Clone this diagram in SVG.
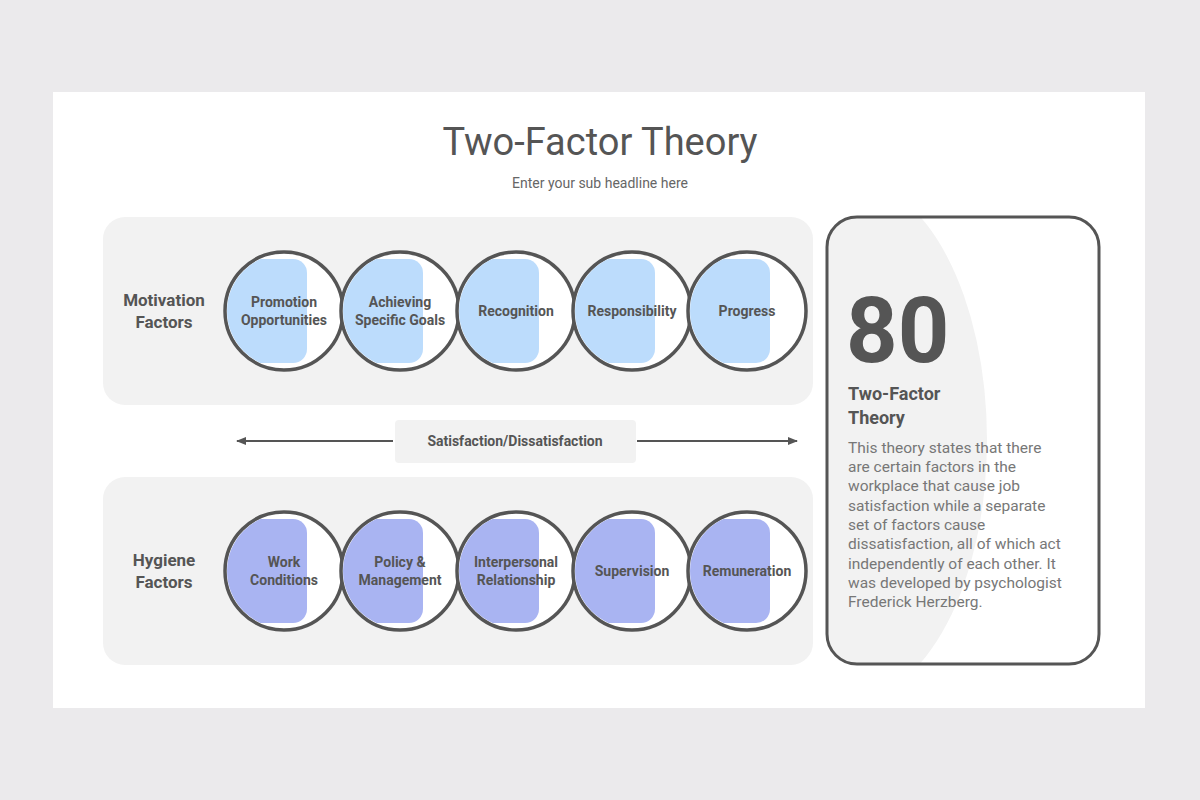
<svg xmlns="http://www.w3.org/2000/svg" width="1200" height="800" viewBox="0 0 1200 800">
<style>
text{font-family:Roboto,"Liberation Sans",sans-serif}
.c{fill:#fff;stroke:#555;stroke-width:3.5}
.lbl{font-size:14px;font-weight:bold;fill:#555;text-anchor:middle}
.side{font-size:17px;font-weight:bold;fill:#555;text-anchor:middle}
.t1{fill:#bcdcfc}.t2{fill:#a9b4f2}
.body{font-size:15.5px;fill:#777}
</style>
<defs>
<marker id="ah" markerWidth="10" markerHeight="10" refX="9" refY="5" orient="auto-start-reverse" markerUnits="userSpaceOnUse"><path d="M0,1 L10,5 L0,9 Z" fill="#555"/></marker>
<clipPath id="card"><rect x="827" y="217" width="272" height="447" rx="30"/></clipPath>
<clipPath id="k1"><circle cx="0" cy="0" r="57"/></clipPath>
</defs>
<rect width="1200" height="800" fill="#ebeaec"/>
<rect x="53" y="92" width="1092" height="616" fill="#fff"/>
<text x="600" y="155" font-size="38" fill="#555" text-anchor="middle">Two-Factor Theory</text>
<text x="600" y="188" font-size="14" fill="#666" text-anchor="middle">Enter your sub headline here</text>
<rect x="103" y="217" width="710" height="188" rx="22" fill="#f2f2f2"/>
<rect x="103" y="477" width="710" height="188" rx="22" fill="#f2f2f2"/>
<text class="side" x="164" y="306">Motivation</text><text class="side" x="164" y="328">Factors</text>
<text class="side" x="164" y="566">Hygiene</text><text class="side" x="164" y="588">Factors</text>
<g id="connectors">
<line x1="237" y1="441" x2="393" y2="441" stroke="#555" stroke-width="2" marker-start="url(#ah)"/>
<line x1="637" y1="441" x2="797" y2="441" stroke="#555" stroke-width="2" marker-end="url(#ah)"/>
</g>
<g id="satisfaction"><rect x="395" y="420" width="241" height="43" rx="4" fill="#f2f2f2"/>
<text x="515" y="446" font-size="14" font-weight="bold" fill="#555" text-anchor="middle">Satisfaction/Dissatisfaction</text></g>
<g id="m1" transform="translate(284,311)"><circle class="c" r="59"/><rect class="t1" clip-path="url(#k1)" x="-60" y="-52" width="83" height="104" rx="14"/><text class="lbl" y="-4">Promotion</text><text class="lbl" y="14">Opportunities</text></g>
<g id="m2" transform="translate(400,311)"><circle class="c" r="59"/><rect class="t1" clip-path="url(#k1)" x="-60" y="-52" width="83" height="104" rx="14"/><text class="lbl" y="-4">Achieving</text><text class="lbl" y="14">Specific Goals</text></g>
<g id="m3" transform="translate(516,311)"><circle class="c" r="59"/><rect class="t1" clip-path="url(#k1)" x="-60" y="-52" width="83" height="104" rx="14"/><text class="lbl" y="5">Recognition</text></g>
<g id="m4" transform="translate(632,311)"><circle class="c" r="59"/><rect class="t1" clip-path="url(#k1)" x="-60" y="-52" width="83" height="104" rx="14"/><text class="lbl" y="5">Responsibility</text></g>
<g id="m5" transform="translate(747,311)"><circle class="c" r="59"/><rect class="t1" clip-path="url(#k1)" x="-60" y="-52" width="83" height="104" rx="14"/><text class="lbl" y="5">Progress</text></g>
<g id="h1" transform="translate(284,571)"><circle class="c" r="59"/><rect class="t2" clip-path="url(#k1)" x="-60" y="-52" width="83" height="104" rx="14"/><text class="lbl" y="-4">Work</text><text class="lbl" y="14">Conditions</text></g>
<g id="h2" transform="translate(400,571)"><circle class="c" r="59"/><rect class="t2" clip-path="url(#k1)" x="-60" y="-52" width="83" height="104" rx="14"/><text class="lbl" y="-4">Policy &amp;</text><text class="lbl" y="14">Management</text></g>
<g id="h3" transform="translate(516,571)"><circle class="c" r="59"/><rect class="t2" clip-path="url(#k1)" x="-60" y="-52" width="83" height="104" rx="14"/><text class="lbl" y="-4">Interpersonal</text><text class="lbl" y="14">Relationship</text></g>
<g id="h4" transform="translate(632,571)"><circle class="c" r="59"/><rect class="t2" clip-path="url(#k1)" x="-60" y="-52" width="83" height="104" rx="14"/><text class="lbl" y="5">Supervision</text></g>
<g id="h5" transform="translate(747,571)"><circle class="c" r="59"/><rect class="t2" clip-path="url(#k1)" x="-60" y="-52" width="83" height="104" rx="14"/><text class="lbl" y="5">Remuneration</text></g>
<g id="card-node">
<rect x="827" y="217" width="272" height="447" rx="30" fill="#fff"/>
<ellipse cx="850" cy="440" rx="137" ry="260" fill="#f2f2f2" clip-path="url(#card)"/>
<rect x="827" y="217" width="272" height="447" rx="30" fill="none" stroke="#555" stroke-width="3"/>
<text x="846" y="362" font-size="90" font-weight="bold" fill="#555">80</text>
<text x="848" y="400" font-size="18" font-weight="bold" fill="#555">Two-Factor</text>
<text x="848" y="424" font-size="18" font-weight="bold" fill="#555">Theory</text>
<text class="body" x="848" y="453">This theory states that there</text>
<text class="body" x="848" y="472">are certain factors in the</text>
<text class="body" x="848" y="491">workplace that cause job</text>
<text class="body" x="848" y="511">satisfaction while a separate</text>
<text class="body" x="848" y="530">set of factors cause</text>
<text class="body" x="848" y="549">dissatisfaction, all of which act</text>
<text class="body" x="848" y="569">independently of each other. It</text>
<text class="body" x="848" y="588">was developed by psychologist</text>
<text class="body" x="848" y="607">Frederick Herzberg.</text>
</g>
</svg>
